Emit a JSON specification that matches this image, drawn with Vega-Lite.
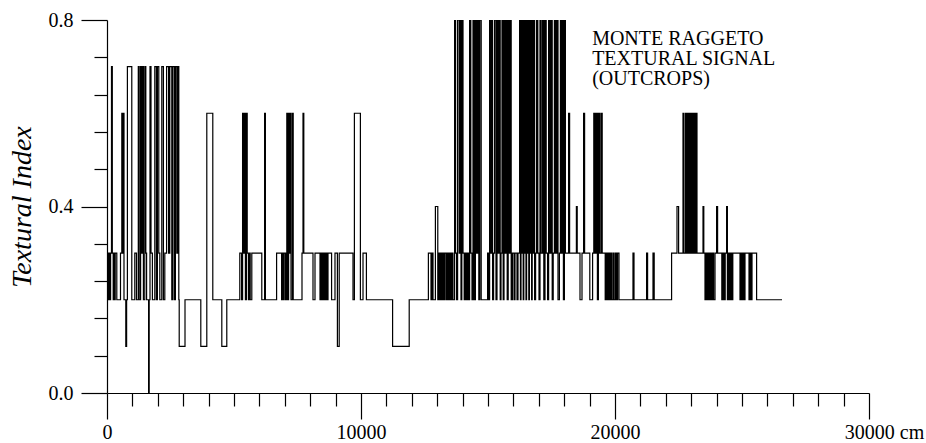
{
  "$schema": "https://vega.github.io/schema/vega-lite/v6.json",
  "width": 762,
  "height": 373,
  "autosize": "none",
  "padding": {"left": 107, "top": 20, "right": 57, "bottom": 50},
  "background": "white",
  "config": {"view": {"stroke": null}, "font": "Liberation Serif, Times New Roman, serif"},
  "layer": [
    {
      "data": {"values": [
        {"x": 0, "y": 0.2}, {"x": 31, "y": 0.3}, {"x": 63, "y": 0.2}, {"x": 87, "y": 0.3}, {"x": 118, "y": 0.2},
        {"x": 142, "y": 0.3}, {"x": 177, "y": 0.7}, {"x": 209, "y": 0.3}, {"x": 244, "y": 0.2}, {"x": 268, "y": 0.3},
        {"x": 299, "y": 0.2}, {"x": 323, "y": 0.3}, {"x": 386, "y": 0.2}, {"x": 531, "y": 0.3}, {"x": 583, "y": 0.6},
        {"x": 610, "y": 0.3}, {"x": 642, "y": 0.6}, {"x": 669, "y": 0.2}, {"x": 740, "y": 0.1}, {"x": 772, "y": 0.2},
        {"x": 803, "y": 0.7}, {"x": 976, "y": 0.2}, {"x": 1094, "y": 0.3}, {"x": 1161, "y": 0.2}, {"x": 1232, "y": 0.7},
        {"x": 1268, "y": 0.2}, {"x": 1323, "y": 0.7}, {"x": 1354, "y": 0.3}, {"x": 1394, "y": 0.7}, {"x": 1433, "y": 0.2},
        {"x": 1488, "y": 0.7}, {"x": 1528, "y": 0.3}, {"x": 1559, "y": 0.2}, {"x": 1638, "y": 0.0}, {"x": 1661, "y": 0.2},
        {"x": 1693, "y": 0.7}, {"x": 1732, "y": 0.3}, {"x": 1787, "y": 0.2}, {"x": 1882, "y": 0.7}, {"x": 1945, "y": 0.2},
        {"x": 1984, "y": 0.7}, {"x": 2039, "y": 0.3}, {"x": 2079, "y": 0.2}, {"x": 2157, "y": 0.7}, {"x": 2220, "y": 0.2},
        {"x": 2276, "y": 0.3}, {"x": 2346, "y": 0.7}, {"x": 2425, "y": 0.3}, {"x": 2472, "y": 0.7}, {"x": 2551, "y": 0.2},
        {"x": 2590, "y": 0.7}, {"x": 2653, "y": 0.2}, {"x": 2693, "y": 0.7}, {"x": 2748, "y": 0.3}, {"x": 2787, "y": 0.7},
        {"x": 2827, "y": 0.2}, {"x": 2843, "y": 0.1}, {"x": 3071, "y": 0.2}, {"x": 3693, "y": 0.1}, {"x": 3929, "y": 0.6},
        {"x": 4165, "y": 0.2}, {"x": 4520, "y": 0.1}, {"x": 4716, "y": 0.2}, {"x": 5228, "y": 0.3}, {"x": 5299, "y": 0.2},
        {"x": 5338, "y": 0.6}, {"x": 5370, "y": 0.3}, {"x": 5409, "y": 0.6}, {"x": 5449, "y": 0.2}, {"x": 5488, "y": 0.6},
        {"x": 5520, "y": 0.3}, {"x": 5567, "y": 0.2}, {"x": 5598, "y": 0.3}, {"x": 5638, "y": 0.2}, {"x": 5701, "y": 0.3},
        {"x": 6094, "y": 0.2}, {"x": 6205, "y": 0.6}, {"x": 6236, "y": 0.2}, {"x": 6677, "y": 0.3}, {"x": 6874, "y": 0.2},
        {"x": 6906, "y": 0.3}, {"x": 6945, "y": 0.2}, {"x": 6976, "y": 0.3}, {"x": 7031, "y": 0.2}, {"x": 7079, "y": 0.6},
        {"x": 7110, "y": 0.2}, {"x": 7150, "y": 0.6}, {"x": 7181, "y": 0.3}, {"x": 7213, "y": 0.6}, {"x": 7244, "y": 0.2},
        {"x": 7299, "y": 0.6}, {"x": 7331, "y": 0.2}, {"x": 7677, "y": 0.3}, {"x": 7717, "y": 0.6}, {"x": 7748, "y": 0.3},
        {"x": 8110, "y": 0.2}, {"x": 8189, "y": 0.3}, {"x": 8386, "y": 0.2}, {"x": 8409, "y": 0.3}, {"x": 8441, "y": 0.2},
        {"x": 8472, "y": 0.3}, {"x": 8512, "y": 0.2}, {"x": 8543, "y": 0.3}, {"x": 8590, "y": 0.2}, {"x": 8622, "y": 0.3},
        {"x": 8669, "y": 0.2}, {"x": 8701, "y": 0.3}, {"x": 8842, "y": 0.2}, {"x": 8976, "y": 0.3}, {"x": 9071, "y": 0.1},
        {"x": 9142, "y": 0.3}, {"x": 9685, "y": 0.2}, {"x": 9740, "y": 0.6}, {"x": 9976, "y": 0.2}, {"x": 10079, "y": 0.3},
        {"x": 10213, "y": 0.2}, {"x": 11244, "y": 0.1}, {"x": 11898, "y": 0.2}, {"x": 12653, "y": 0.3}, {"x": 12756, "y": 0.2},
        {"x": 12795, "y": 0.3}, {"x": 12835, "y": 0.2}, {"x": 12929, "y": 0.4}, {"x": 13023, "y": 0.2}, {"x": 13063, "y": 0.3},
        {"x": 13110, "y": 0.2}, {"x": 13149, "y": 0.3}, {"x": 13189, "y": 0.2}, {"x": 13228, "y": 0.3}, {"x": 13268, "y": 0.2},
        {"x": 13307, "y": 0.3}, {"x": 13362, "y": 0.2}, {"x": 13402, "y": 0.3}, {"x": 13449, "y": 0.2}, {"x": 13488, "y": 0.3},
        {"x": 13535, "y": 0.2}, {"x": 13575, "y": 0.3}, {"x": 13622, "y": 0.2}, {"x": 13685, "y": 0.8}, {"x": 13724, "y": 0.3},
        {"x": 13764, "y": 0.2}, {"x": 13803, "y": 0.8}, {"x": 13866, "y": 0.3}, {"x": 13898, "y": 0.8}, {"x": 13937, "y": 0.2},
        {"x": 13969, "y": 0.8}, {"x": 14016, "y": 0.3}, {"x": 14063, "y": 0.2}, {"x": 14102, "y": 0.3}, {"x": 14150, "y": 0.2},
        {"x": 14189, "y": 0.3}, {"x": 14228, "y": 0.2}, {"x": 14276, "y": 0.8}, {"x": 14323, "y": 0.3}, {"x": 14370, "y": 0.2},
        {"x": 14410, "y": 0.8}, {"x": 14457, "y": 0.2}, {"x": 14504, "y": 0.8}, {"x": 14551, "y": 0.3}, {"x": 14591, "y": 0.8},
        {"x": 14638, "y": 0.2}, {"x": 14677, "y": 0.8}, {"x": 14732, "y": 0.2}, {"x": 14984, "y": 0.3}, {"x": 15024, "y": 0.2},
        {"x": 15063, "y": 0.8}, {"x": 15110, "y": 0.3}, {"x": 15142, "y": 0.8}, {"x": 15181, "y": 0.2}, {"x": 15220, "y": 0.3},
        {"x": 15260, "y": 0.8}, {"x": 15315, "y": 0.2}, {"x": 15354, "y": 0.8}, {"x": 15394, "y": 0.3}, {"x": 15433, "y": 0.8},
        {"x": 15480, "y": 0.2}, {"x": 15512, "y": 0.3}, {"x": 15551, "y": 0.8}, {"x": 15598, "y": 0.2}, {"x": 15630, "y": 0.8},
        {"x": 15669, "y": 0.3}, {"x": 15709, "y": 0.8}, {"x": 15756, "y": 0.2}, {"x": 15795, "y": 0.8}, {"x": 15843, "y": 0.3},
        {"x": 15874, "y": 0.8}, {"x": 15913, "y": 0.2}, {"x": 15961, "y": 0.3}, {"x": 16024, "y": 0.2}, {"x": 16063, "y": 0.3},
        {"x": 16142, "y": 0.2}, {"x": 16181, "y": 0.3}, {"x": 16244, "y": 0.8}, {"x": 16276, "y": 0.2}, {"x": 16299, "y": 0.8},
        {"x": 16331, "y": 0.3}, {"x": 16354, "y": 0.8}, {"x": 16386, "y": 0.2}, {"x": 16409, "y": 0.8}, {"x": 16441, "y": 0.3},
        {"x": 16465, "y": 0.8}, {"x": 16496, "y": 0.2}, {"x": 16520, "y": 0.8}, {"x": 16551, "y": 0.3}, {"x": 16575, "y": 0.8},
        {"x": 16606, "y": 0.2}, {"x": 16630, "y": 0.8}, {"x": 16661, "y": 0.3}, {"x": 16685, "y": 0.8}, {"x": 16717, "y": 0.2},
        {"x": 16740, "y": 0.8}, {"x": 16772, "y": 0.3}, {"x": 16795, "y": 0.8}, {"x": 16835, "y": 0.2}, {"x": 16874, "y": 0.3},
        {"x": 16913, "y": 0.8}, {"x": 16961, "y": 0.3}, {"x": 17008, "y": 0.2}, {"x": 17047, "y": 0.8}, {"x": 17094, "y": 0.3},
        {"x": 17150, "y": 0.8}, {"x": 17197, "y": 0.2}, {"x": 17244, "y": 0.8}, {"x": 17291, "y": 0.3}, {"x": 17346, "y": 0.2},
        {"x": 17386, "y": 0.8}, {"x": 17433, "y": 0.3}, {"x": 17480, "y": 0.8}, {"x": 17528, "y": 0.2}, {"x": 17567, "y": 0.3},
        {"x": 17614, "y": 0.8}, {"x": 17661, "y": 0.3}, {"x": 17709, "y": 0.8}, {"x": 17756, "y": 0.2}, {"x": 17811, "y": 0.3},
        {"x": 17850, "y": 0.8}, {"x": 17890, "y": 0.3}, {"x": 17929, "y": 0.8}, {"x": 17969, "y": 0.2}, {"x": 18008, "y": 0.8},
        {"x": 18047, "y": 0.3}, {"x": 18173, "y": 0.6}, {"x": 18213, "y": 0.3}, {"x": 18480, "y": 0.4}, {"x": 18512, "y": 0.3},
        {"x": 18622, "y": 0.2}, {"x": 18701, "y": 0.3}, {"x": 18764, "y": 0.6}, {"x": 18803, "y": 0.3}, {"x": 19008, "y": 0.2},
        {"x": 19118, "y": 0.3}, {"x": 19165, "y": 0.6}, {"x": 19213, "y": 0.3}, {"x": 19260, "y": 0.6}, {"x": 19307, "y": 0.2},
        {"x": 19346, "y": 0.6}, {"x": 19394, "y": 0.3}, {"x": 19449, "y": 0.6}, {"x": 19496, "y": 0.3}, {"x": 19614, "y": 0.2},
        {"x": 19654, "y": 0.3}, {"x": 19693, "y": 0.2}, {"x": 19740, "y": 0.3}, {"x": 19780, "y": 0.2}, {"x": 19827, "y": 0.3},
        {"x": 19866, "y": 0.2}, {"x": 19921, "y": 0.3}, {"x": 19961, "y": 0.2}, {"x": 20016, "y": 0.3}, {"x": 20055, "y": 0.2},
        {"x": 20102, "y": 0.3}, {"x": 20157, "y": 0.2}, {"x": 20708, "y": 0.3}, {"x": 20748, "y": 0.2}, {"x": 21244, "y": 0.3},
        {"x": 21283, "y": 0.2}, {"x": 21496, "y": 0.3}, {"x": 21543, "y": 0.2}, {"x": 22228, "y": 0.3}, {"x": 22441, "y": 0.4},
        {"x": 22504, "y": 0.3}, {"x": 22677, "y": 0.6}, {"x": 22716, "y": 0.3}, {"x": 22779, "y": 0.6}, {"x": 22811, "y": 0.3},
        {"x": 22858, "y": 0.6}, {"x": 22890, "y": 0.3}, {"x": 22921, "y": 0.6}, {"x": 22953, "y": 0.3}, {"x": 22976, "y": 0.6},
        {"x": 23008, "y": 0.3}, {"x": 23031, "y": 0.6}, {"x": 23063, "y": 0.3}, {"x": 23086, "y": 0.6}, {"x": 23118, "y": 0.3},
        {"x": 23142, "y": 0.6}, {"x": 23173, "y": 0.3}, {"x": 23197, "y": 0.6}, {"x": 23228, "y": 0.3}, {"x": 23465, "y": 0.4},
        {"x": 23496, "y": 0.3}, {"x": 23543, "y": 0.2}, {"x": 23583, "y": 0.3}, {"x": 23622, "y": 0.2}, {"x": 23661, "y": 0.3},
        {"x": 23701, "y": 0.2}, {"x": 23740, "y": 0.3}, {"x": 23787, "y": 0.2}, {"x": 23835, "y": 0.3}, {"x": 23882, "y": 0.2},
        {"x": 23937, "y": 0.3}, {"x": 24000, "y": 0.4}, {"x": 24039, "y": 0.3}, {"x": 24205, "y": 0.2}, {"x": 24252, "y": 0.3},
        {"x": 24291, "y": 0.2}, {"x": 24339, "y": 0.3}, {"x": 24394, "y": 0.4}, {"x": 24425, "y": 0.2}, {"x": 24465, "y": 0.3},
        {"x": 24512, "y": 0.2}, {"x": 24559, "y": 0.3}, {"x": 24598, "y": 0.2}, {"x": 24638, "y": 0.3}, {"x": 24921, "y": 0.2},
        {"x": 24953, "y": 0.3}, {"x": 24992, "y": 0.2}, {"x": 25031, "y": 0.3}, {"x": 25079, "y": 0.2}, {"x": 25118, "y": 0.3},
        {"x": 25276, "y": 0.2}, {"x": 25315, "y": 0.3}, {"x": 25354, "y": 0.2}, {"x": 25394, "y": 0.3}, {"x": 25575, "y": 0.2},
        {"x": 26575, "y": 0.2}
      ]},
      "mark": {"type": "line", "interpolate": "step-after", "color": "black", "strokeWidth": 1.2, "clip": true},
      "encoding": {
        "x": {
          "field": "x", "type": "quantitative",
          "scale": {"domain": [0, 30000], "nice": false, "zero": false},
          "axis": {
            "values": [0,1000,2000,3000,4000,5000,6000,7000,8000,9000,10000,11000,12000,13000,14000,15000,16000,17000,18000,19000,20000,21000,22000,23000,24000,25000,26000,27000,28000,29000,30000],
            "tickCount": 100,
            "title": null,
            "grid": false,
            "domainColor": "black", "domainWidth": 1.2,
            "tickColor": "black", "tickWidth": 1.2,
            "tickSize": {"condition": {"test": "datum.value % 10000 === 0", "value": 26}, "value": 13},
            "labelExpr": "datum.value === 30000 ? '30000 cm' : (datum.value % 10000 === 0 ? format(datum.value, 'd') : '')",
            "labelOffset": {"condition": {"test": "datum.value === 30000", "value": 15}, "value": 0},
            "labelFont": "Liberation Serif, Times New Roman, serif", "labelFontSize": 20, "labelColor": "black",
            "labelPadding": 3,
            "labelOverlap": false, "labelFlush": false, "labelBound": false
          }
        },
        "y": {
          "field": "y", "type": "quantitative",
          "scale": {"domain": [0, 0.8], "nice": false},
          "axis": {
            "values": [0, 0.08, 0.16, 0.24, 0.32, 0.4, 0.48, 0.56, 0.64, 0.72, 0.8],
            "tickCount": 100,
            "title": "Textural Index",
            "titleFont": "Liberation Serif, Times New Roman, serif", "titleFontStyle": "italic", "titleFontWeight": "normal",
            "titleFontSize": 28, "titleColor": "black", "titlePadding": 12,
            "grid": false,
            "domainColor": "black", "domainWidth": 1.2,
            "tickColor": "black", "tickWidth": 1.2,
            "tickSize": {"condition": {"test": "datum.value === 0 || datum.value === 0.4 || datum.value === 0.8", "value": 26}, "value": 13},
            "labelExpr": "(datum.value === 0 || datum.value === 0.4 || datum.value === 0.8) ? format(datum.value, '.1f') : ''",
            "labelFont": "Liberation Serif, Times New Roman, serif", "labelFontSize": 20, "labelColor": "black",
            "labelPadding": 8,
            "labelOverlap": false, "labelFlush": false, "labelBound": false
          }
        }
      }
    },
    {
      "data": {"values": [{"x": 19100, "y": 0.746, "label": "MONTE RAGGETO\nTEXTURAL SIGNAL\n(OUTCROPS)"}]},
      "mark": {"type": "text", "align": "left", "baseline": "alphabetic", "font": "Liberation Serif, Times New Roman, serif", "fontSize": 20, "lineHeight": 20, "lineBreak": "\n", "color": "black"},
      "encoding": {
        "x": {"field": "x", "type": "quantitative"},
        "y": {"field": "y", "type": "quantitative"},
        "text": {"field": "label", "type": "nominal"}
      }
    }
  ]
}
